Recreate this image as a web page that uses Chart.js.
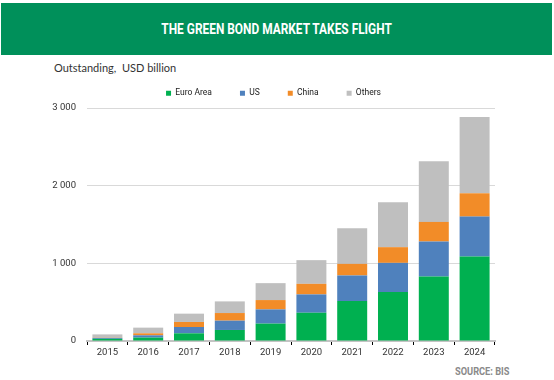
<!DOCTYPE html>
<html>
<head>
<meta charset="utf-8">
<script src="https://cdn.jsdelivr.net/npm/chart.js@4.4.1/dist/chart.umd.min.js"></script>
<style>
  body { margin: 0; width: 554px; height: 380px; background: #fff; position: relative; overflow: hidden; font-family: Roboto, sans-serif; }
  #header { position: absolute; left: 1px; top: 3px; width: 551px; height: 52px; background: #00905a; text-align: center; }
  #header span { display: inline-block; color: #fff; font: bold 14px Roboto, sans-serif; line-height: 52px; transform: scaleX(0.85); }
  #unit { position: absolute; left: 54px; top: 61px; font: 11px Lato, sans-serif; color: #333; }
  #source { position: absolute; left: 455px; top: 365px; font: bold 10.5px Roboto, sans-serif; color: #8a8a8a; transform: scaleX(0.88); transform-origin: left; }
  #wrap { position: absolute; left: 0; top: 60px; width: 554px; height: 300px; }
</style>
</head>
<body>
<div id="header"><span>THE GREEN BOND MARKET TAKES FLIGHT</span></div>
<div id="unit">Outstanding,&nbsp; USD billion</div>
<div id="wrap"><canvas id="myChart"></canvas></div>
<div id="source">SOURCE: BIS</div>
<script>
// values, USD billion
const years = ['2015', '2016', '2017', '2018', '2019', '2020', '2021', '2022', '2023', '2024']
const euroArea = [28, 44, 99, 142, 224, 364, 514, 630, 831, 1088]
const us = [12, 29, 81, 120, 183, 236, 330, 376, 450, 514]
const china = [3, 26, 65, 98, 120, 136, 149, 202, 252, 300]
const others = [42, 73, 107, 150, 218, 305, 459, 578, 781, 981]
const yTicks = [0, 1000, 2000, 3000]

const fmt = v => String(v).replace(/\B(?=(\d{3})+(?!\d))/g, ' ')

// squeeze the legend height and nudge it to where the original sits
const legendTweak = {
  id: 'legendTweak',
  beforeInit(chart) {
    const fit = chart.legend.fit
    chart.legend.fit = function () {
      fit.bind(chart.legend)()
      this.height = 47
    }
  },
  afterLayout(chart) {
    chart.legend.left += 26
    chart.legend.right += 26
  }
}

const bar = (label, data, color) => ({
  label,
  data,
  backgroundColor: color,
  borderWidth: 0,
  barPercentage: 0.735,
  categoryPercentage: 1,
})

new Chart(document.getElementById('myChart'), {
  type: 'bar',
  data: {
    labels: years,
    datasets: [
      bar('Euro Area', euroArea, '#00b050'),
      bar('US', us, '#4f81bd'),
      bar('China', china, '#f28c28'),
      bar('Others', others, '#bfbfbf'),
    ],
  },
  options: {
    responsive: true,
    maintainAspectRatio: false,
    animation: false,
    layout: { padding: { top: 1, right: 59, bottom: 0, left: 0 } },
    plugins: {
      tooltip: { enabled: false },
      legend: {
        position: 'top',
        labels: {
          boxWidth: 5,
          boxHeight: 5,
          padding: 28,
          color: '#222',
          font: { family: 'Roboto', size: 8.5 },
        },
      },
    },
    scales: {
      x: {
        stacked: true,
        afterFit: s => { s.height = 19 },
        grid: { drawOnChartArea: false, tickLength: 4, tickColor: '#000', tickWidth: 1 },
        border: { color: '#c4c4c4', width: 2 },
        ticks: { color: '#333', padding: 2, font: { family: 'Roboto', size: 9.5 } },
      },
      y: {
        stacked: true,
        min: 0,
        max: 3000,
        afterFit: s => { s.width = 87 },
        afterBuildTicks: s => { s.ticks = yTicks.map(v => ({ value: v })) },
        grid: { color: '#d9d9d9', drawTicks: false },
        border: { display: false },
        ticks: { color: '#333', padding: 11, font: { family: 'Roboto', size: 9.5 }, callback: v => fmt(v) },
      },
    },
  },
  plugins: [legendTweak],
})
</script>
</body>
</html>
